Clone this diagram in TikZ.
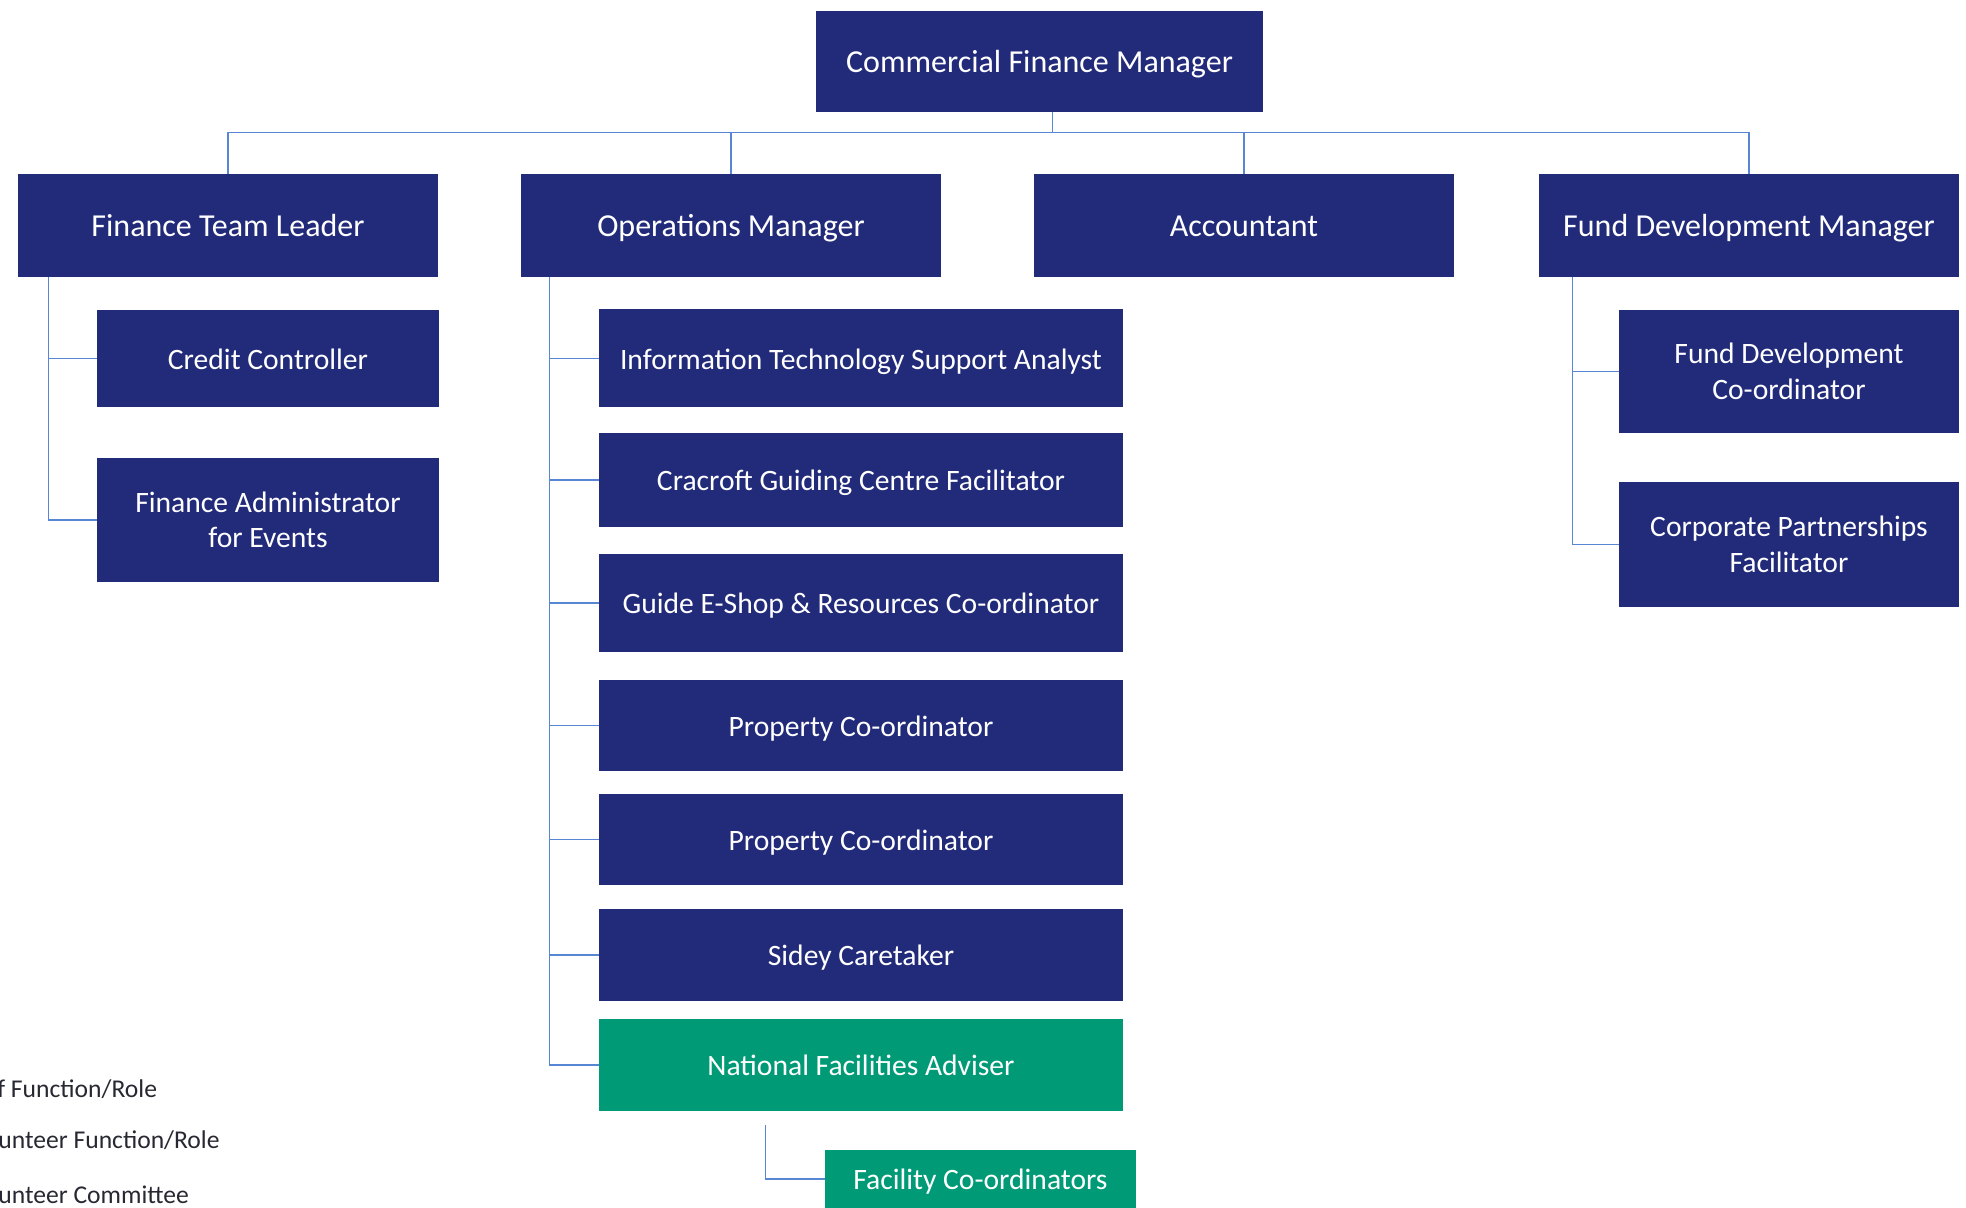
\documentclass[tikz,border=0pt]{standalone}
\usepackage{fontspec}
\setmainfont{Carlito}
\usepackage{xcolor}
\definecolor{roleblue}{RGB}{34,43,122}
\definecolor{rolegreen}{RGB}{0,155,118}
\definecolor{linkblue}{RGB}{86,134,212}
\definecolor{legendgrey}{RGB}{40,40,50}

\begin{document}
\begin{tikzpicture}[x=0.5pt,y=-0.5pt,
    box/.style={fill=roleblue,text=white,inner sep=0pt,font=\fontsize{14.8}{17.7}\selectfont},
    role/.style={box,text height=10.7pt,text depth=0pt},
    lead/.style={box,font=\fontsize{16}{19}\selectfont,text height=11.5pt,text depth=0pt},
    pairrole/.style={box,align=center},
    volrole/.style={role,fill=rolegreen},
    link/.style={draw=linkblue,line width=0.8pt},
    legend/.style={anchor=base west,inner sep=0pt,text=legendgrey,font=\fontsize{12.8}{15}\selectfont}]
    \useasboundingbox (0,0) rectangle (1966,1208);
    % top
    \node[lead,minimum width=223.5pt,minimum height=50.5pt] (cfm) at (1039.5,61.5) {Commercial Finance Manager};
    % second row
    \node[lead,minimum width=210pt,minimum height=51.5pt] (ftl) at (228,225.5) {Finance Team Leader};
    \node[lead,minimum width=210pt,minimum height=51.5pt] (om) at (731,225.5) {Operations Manager};
    \node[lead,minimum width=210pt,minimum height=51.5pt] (acc) at (1244,225.5) {Accountant};
    \node[lead,minimum width=210pt,minimum height=51.5pt] (fdm) at (1749,225.5) {Fund Development Manager};
    \draw[link] ([xshift=6.5pt]cfm.south) -- ++(0,20) coordinate (bus);
    \foreach \n in {ftl,om,acc,fdm}
        \draw[link] (bus) -| (\n.north);
    % finance team
    \node[role,minimum width=171pt,minimum height=48.5pt] (cc) at (268,358.5) {Credit Controller};
    \node[pairrole,minimum width=171pt,minimum height=62pt] (fae) at (268,520) {Finance Administrator\\for Events};
    \foreach \n in {cc,fae}
        \draw[link] (ftl.south west) ++(31,0) |- (\n.west);
    % operations
    \node[role,minimum width=262pt,minimum height=49pt] (itsa) at (861,358.5) {Information Technology Support Analyst};
    \node[role,minimum width=262pt,minimum height=47pt] (cgcf) at (861,480) {Cracroft Guiding Centre Facilitator};
    \node[role,minimum width=262pt,minimum height=49pt] (eshop) at (861,603) {Guide E-Shop \& Resources Co-ordinator};
    \node[role,minimum width=262pt,minimum height=45.5pt] (propa) at (861,725.5) {Property Co-ordinator};
    \node[role,minimum width=262pt,minimum height=45.5pt] (propb) at (861,839.5) {Property Co-ordinator};
    \node[role,minimum width=262pt,minimum height=46pt] (sidey) at (861,955) {Sidey Caretaker};
    \node[volrole,minimum width=262pt,minimum height=46pt] (nfa) at (861,1065) {National Facilities Adviser};
    \foreach \n in {itsa,cgcf,eshop,propa,propb,sidey,nfa}
        \draw[link] (om.south west) ++(29,0) |- (\n.west);
    \node[volrole,minimum width=155.5pt,minimum height=29pt] (fac) at (980.5,1179) {Facility Co-ordinators};
    \draw[link] (nfa.south west) ++(167,14) |- (fac.west);
    % fund development
    \node[pairrole,minimum width=170pt,minimum height=61.5pt] (fdc) at (1789,371.5) {Fund Development\\Co-ordinator};
    \node[pairrole,minimum width=170pt,minimum height=62.5pt] (cpf) at (1789,544.5) {Corporate Partnerships\\Facilitator};
    \foreach \n in {fdc,cpf}
        \draw[link] (fdm.south west) ++(34,0) |- (\n.west);
    % key
    \node[legend] (kstaff) at (-3,1097) {f Function/Role};
    \node[legend] (kvol) at (-2,1148) {unteer Function/Role};
    \node[legend] (kcom) at (-2,1203) {unteer Committee};
\end{tikzpicture}
\end{document}
